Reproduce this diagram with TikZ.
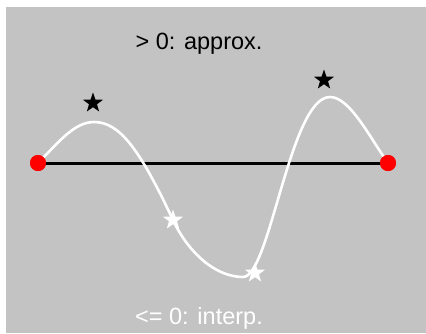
\documentclass[tikz,border=0pt]{standalone}
\usepackage{fontspec}
\setmainfont{Liberation Sans}
\usetikzlibrary{shapes.geometric}
\definecolor{bg}{RGB}{195,195,195}
\definecolor{dotred}{RGB}{255,0,0}
\begin{document}
\begin{tikzpicture}[x=1pt,y=-1pt,
  endpt/.style={circle,fill=dotred,minimum size=16pt,inner sep=0pt},
  starmark/.style={star,star points=5,star point ratio=2.5,minimum size=21pt,inner sep=0pt},
  lbl/.style={font=\fontsize{23.5}{26}\selectfont,inner sep=0pt}]
\useasboundingbox (0,0) rectangle (426,333);
\fill[white] (0,0) rectangle (426,333);
\fill[bg] (6,7) rectangle (426,333);
\node[lbl,text=black] (top) at (199,44) {> 0: approx.};
\node[lbl,text=white] (bot) at (199,318) {<= 0: interp.};
\node[endpt] (a) at (38,163) {};
\node[endpt] (b) at (388,163) {};
\draw[line width=3pt,black] (a.center) -- (b.center);
\draw[line width=2.6pt,white] (a.center)
  .. controls (58,143) and (74,122) .. (94,122)
  .. controls (120,122) and (140,150) .. (173,220)
  .. controls (188,252) and (215,277) .. (243,277)
  .. controls (270,277) and (290,97) .. (330,97)
  .. controls (350,97) and (370,138) .. (b.center);
\node[endpt] at (38,163) {};
\node[endpt] at (388,163) {};
\node[starmark,fill=black] (s1) at (93,103) {};
\node[starmark,fill=black] (s2) at (324,80) {};
\node[starmark,fill=white] (s3) at (173,220) {};
\node[starmark,fill=white] (s4) at (255,273) {};
\end{tikzpicture}
\end{document}
